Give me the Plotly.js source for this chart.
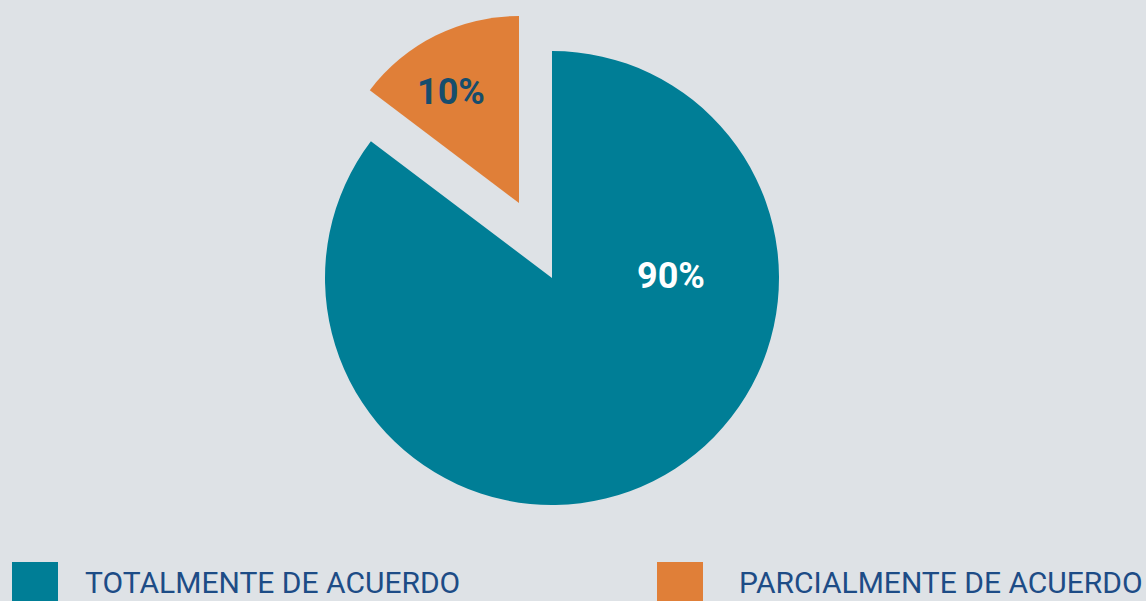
<!DOCTYPE html>
<html>
<head>
<meta charset="utf-8">
<script src="https://cdn.plot.ly/plotly-3.0.1.min.js"></script>
<style>
  html, body { margin: 0; padding: 0; background: #dde2e6; overflow: hidden; }
  #chart { width: 1146px; height: 601px; }
</style>
</head>
<body>
<div id="chart"></div>
<script>
// ---- data ----
const categories = ['TOTALMENTE DE ACUERDO', 'PARCIALMENTE DE ACUERDO'];
const sliceShares = [85.3, 14.7];          // angular share of each slice as drawn
const percentLabels = ['90%', '10%'];       // printed values
const sliceColors = ['#007e96', '#e07f38'];
const labelColors = ['#ffffff', '#174d6c'];

const W = 1146, H = 601;
const px = x => x / W;
const py = y => 1 - y / H;
const clear = 'rgba(0,0,0,0)';

function domainFor(cx, cy, r) {
  return { x: [px(cx - r), px(cx + r)], y: [py(cy + r), py(cy - r)] };
}

const common = {
  type: 'pie',
  labels: categories,
  values: sliceShares,
  sort: false,
  direction: 'clockwise',
  rotation: 0,
  textinfo: 'none',
  hoverinfo: 'skip',
  showlegend: false
};

// main (teal) disc
const traceMain = Object.assign({}, common, {
  domain: domainFor(552, 278, 227),
  marker: { colors: [sliceColors[0], clear], line: { width: 0 } }
});
// detached (orange) slice, drawn smaller and offset
const traceDetached = Object.assign({}, common, {
  domain: domainFor(519, 203, 187),
  marker: { colors: [clear, sliceColors[1]], line: { width: 0 } }
});

const labelPos = [[671, 276], [451, 92]];
const annotations = percentLabels.map((t, i) => ({
  xref: 'paper', yref: 'paper', x: px(labelPos[i][0]), y: py(labelPos[i][1]),
  xanchor: 'center', yanchor: 'middle', showarrow: false, text: '<b>' + t + '</b>',
  font: { family: 'Roboto, sans-serif', size: 36, color: labelColors[i] }
}));

// legend
const legendX = [[12, 58, 83], [657, 703, 737]];
const shapes = [];
categories.forEach((c, i) => {
  shapes.push({
    type: 'rect', xref: 'paper', yref: 'paper', layer: 'above',
    x0: px(legendX[i][0]), x1: px(legendX[i][1]), y0: py(609), y1: py(562),
    fillcolor: sliceColors[i], line: { width: 0 }
  });
  annotations.push({
    xref: 'paper', yref: 'paper', x: px(legendX[i][2]), y: py(582),
    xanchor: 'left', yanchor: 'middle', showarrow: false, text: c,
    font: { family: 'Roboto, sans-serif', size: 30, color: '#1d4c86' }
  });
});

const layout = {
  width: W, height: H,
  margin: { l: 0, r: 0, t: 0, b: 0, pad: 0 },
  paper_bgcolor: '#dee2e6',
  plot_bgcolor: '#dee2e6',
  showlegend: false,
  annotations: annotations,
  shapes: shapes
};

Plotly.newPlot('chart', [traceMain, traceDetached], layout, { displayModeBar: false, staticPlot: true });
</script>
</body>
</html>
